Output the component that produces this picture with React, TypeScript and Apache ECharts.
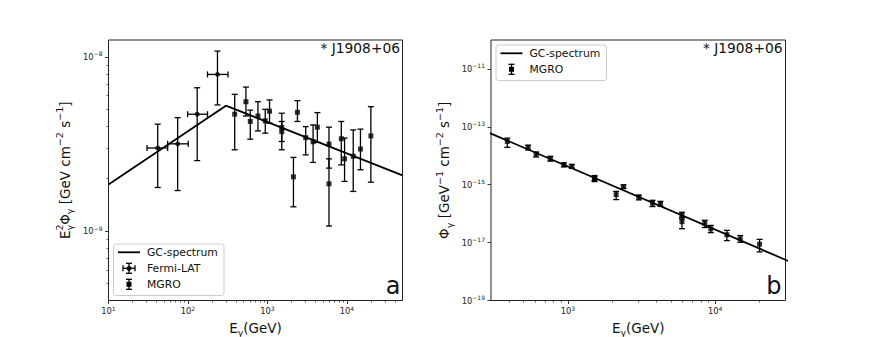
import React, { useEffect, useRef } from "react";
import * as echarts from "echarts";

// ---------- data ----------
// Fermi-LAT: energy (GeV), energy bin edges, E^2 Phi (GeV cm^-2 s^-1) and its error range
const FERMI_E = [41.6, 74.1, 130.6, 235];
const FERMI_E_LO = [30.5, 55.5, 98.9, 176];
const FERMI_E_HI = [55.5, 100.7, 176, 319];
const FERMI_E2F = [3.0e-9, 3.17e-9, 4.69e-9, 7.93e-9];
const FERMI_E2F_LO = [1.78e-9, 1.71e-9, 2.54e-9, 5.3e-9];
const FERMI_E2F_HI = [4.11e-9, 4.48e-9, 6.65e-9, 1.08e-8];

// MGRO: energy (GeV), E^2 Phi and its error range
const MGRO_E = [387, 536, 608, 759, 938, 1062, 1514, 1514, 2123, 2382, 3027, 3750, 4246, 5943, 5943, 8492, 9333, 11995, 14791, 20000];
const MGRO_E2F = [4.69e-9, 5.53e-9, 4.26e-9, 4.58e-9, 4.3e-9, 4.88e-9, 3.93e-9, 3.72e-9, 2.05e-9, 4.81e-9, 3.44e-9, 3.26e-9, 3.95e-9, 3.16e-9, 1.87e-9, 3.39e-9, 2.6e-9, 2.69e-9, 2.96e-9, 3.52e-9];
const MGRO_E2F_HI = [6.1e-9, 6.71e-9, 4.95e-9, 5.53e-9, 5.0e-9, 5.66e-9, 4.75e-9, 4.26e-9, 2.65e-9, 5.61e-9, 3.98e-9, 4.07e-9, 4.79e-9, 3.95e-9, 2.6e-9, 4.26e-9, 3.42e-9, 3.81e-9, 3.85e-9, 5.18e-9];
const MGRO_E2F_LO = [2.93e-9, 4.58e-9, 3.37e-9, 3.76e-9, 3.65e-9, 4.16e-9, 3.27e-9, 2.93e-9, 1.38e-9, 4.26e-9, 2.74e-9, 2.48e-9, 3.23e-9, 2.3e-9, 1.07e-9, 2.4e-9, 1.93e-9, 1.69e-9, 2.25e-9, 1.91e-9];

// GC-spectrum (broken power law) break points: energy (GeV), E^2 Phi
const GC_E = [10, 300, 50000];
const GC_E2F = [1.85e-9, 5.25e-9, 2.09e-9];

// axis ranges and ticks
const LEFT_X_RANGE = [10, 50000];
const LEFT_Y_RANGE = [4e-10, 1.25e-8];
const RIGHT_X_RANGE = [300, 30000];
const RIGHT_Y_RANGE = [1e-19, 1e-10];
const LEFT_X_MAJOR = [10, 100, 1000, 10000];
const LEFT_X_MINOR = [20, 30, 40, 50, 60, 70, 80, 90, 200, 300, 400, 500, 600, 700, 800, 900, 2000, 3000, 4000, 5000, 6000, 7000, 8000, 9000, 20000, 30000, 40000];
const LEFT_Y_MAJOR = [1e-9, 1e-8];
const LEFT_Y_MINOR = [5e-10, 6e-10, 7e-10, 8e-10, 9e-10, 2e-9, 3e-9, 4e-9, 5e-9, 6e-9, 7e-9, 8e-9, 9e-9];
const RIGHT_X_MAJOR = [1000, 10000];
const RIGHT_X_MINOR = [400, 500, 600, 700, 800, 900, 2000, 3000, 4000, 5000, 6000, 7000, 8000, 9000, 20000];
const RIGHT_Y_MAJOR = [1e-19, 1e-17, 1e-15, 1e-13, 1e-11];

const SOURCE = "* J1908+06";

// ---------- helpers ----------
const lg = (v: number) => Math.log10(v);
const supStr = (n: number) => (n < 0 ? "\u2212" : "") + Math.abs(n);
const tickFmt = (v: number) => `{b|10}{s|${supStr(Math.round(v))}}`;
const FONT = "DejaVu Sans";
const INK = "#111";

const tickRich = {
  b: { fontSize: 8.3, lineHeight: 12, fontFamily: FONT, color: "#222" },
  s: { fontSize: 6, lineHeight: 7, verticalAlign: "top", fontFamily: FONT, color: "#222" },
};
const nameRich = {
  n: { fontSize: 13.5, lineHeight: 20, fontFamily: FONT, color: INK },
  sup: { fontSize: 9.5, lineHeight: 11, verticalAlign: "top", fontFamily: FONT, color: INK },
  sub: { fontSize: 9.5, lineHeight: 11, verticalAlign: "bottom", fontFamily: FONT, color: INK },
  // subscript stacked under the preceding superscript
  subk: { fontSize: 9.5, lineHeight: 11, verticalAlign: "bottom", fontFamily: FONT, color: INK, padding: [0, 0, 0, -6] },
};

const GRID_L = { left: 108.5, top: 40, width: 294, height: 260.5 };
const GRID_R = { left: 491, top: 40, width: 294.5, height: 260.5 };

function majorAxis(gridIndex: number, range: number[], ticks: number[], isX: boolean, name: string, nameGap: number) {
  return {
    type: "value",
    gridIndex,
    position: isX ? "bottom" : "left",
    min: lg(range[0]),
    max: lg(range[1]),
    axisLine: { show: false },
    splitLine: { show: false },
    axisTick: { show: true, customValues: ticks.map(lg), length: 3.5, lineStyle: { color: "#222", width: 0.9 } },
    axisLabel: {
      show: true,
      customValues: ticks.map(lg),
      formatter: tickFmt,
      rich: tickRich,
      margin: isX ? 4.5 : 6,
    },
    name,
    nameLocation: "middle",
    nameGap,
    nameRotate: isX ? 0 : 90,
    nameTextStyle: { rich: nameRich },
  };
}
function minorAxis(gridIndex: number, range: number[], ticks: number[], isX: boolean) {
  return {
    type: "value",
    gridIndex,
    position: isX ? "bottom" : "left",
    offset: 0,
    min: lg(range[0]),
    max: lg(range[1]),
    axisLine: { show: false },
    splitLine: { show: false },
    axisTick: { show: true, customValues: ticks.map(lg), length: 2, lineStyle: { color: "#222", width: 0.7 } },
    axisLabel: { show: false },
  };
}

// custom error bar renderer: value = [x, y, ylo, yhi, xlo, xhi]
function errRender(withX: boolean) {
  return (params: any, api: any) => {
    const x = api.value(0);
    const y = api.value(1);
    const top = api.coord([x, api.value(3)]);
    const bot = api.coord([x, api.value(2)]);
    const cap = 3;
    const style = { stroke: "#000", lineWidth: 1.3 };
    const children: any[] = [
      { type: "line", shape: { x1: top[0], y1: top[1], x2: bot[0], y2: bot[1] }, style },
      { type: "line", shape: { x1: top[0] - cap, y1: top[1], x2: top[0] + cap, y2: top[1] }, style },
      { type: "line", shape: { x1: bot[0] - cap, y1: bot[1], x2: bot[0] + cap, y2: bot[1] }, style },
    ];
    if (withX) {
      const l = api.coord([api.value(4), y]);
      const r = api.coord([api.value(5), y]);
      children.push(
        { type: "line", shape: { x1: l[0], y1: l[1], x2: r[0], y2: r[1] }, style },
        { type: "line", shape: { x1: l[0], y1: l[1] - cap, x2: l[0], y2: l[1] + cap }, style },
        { type: "line", shape: { x1: r[0], y1: r[1] - cap, x2: r[0], y2: r[1] + cap }, style }
      );
    }
    return { type: "group", children };
  };
}

function legendBox(x: number, y: number, w: number, h: number) {
  return {
    type: "rect",
    shape: { x, y, width: w, height: h, r: 2.5 },
    style: { fill: "rgba(255,255,255,0.8)", stroke: "#cccccc", lineWidth: 1 },
    z: 50,
  };
}
function legendText(x: number, y: number, t: string) {
  return { type: "text", x, y, z: 51, style: { text: t, fontSize: 10.8, fontFamily: FONT, fill: INK, verticalAlign: "middle", align: "left" } };
}
function legendLine(x1: number, x2: number, y: number) {
  return { type: "line", z: 51, shape: { x1, y1: y, x2, y2: y }, style: { stroke: "#000", lineWidth: 1.8 } };
}
function legendErr(cx: number, cy: number, marker: "circle" | "rect", horiz: boolean) {
  const st = { stroke: "#000", lineWidth: 1.3 };
  const els: any[] = [
    { type: "line", z: 51, shape: { x1: cx, y1: cy - 5, x2: cx, y2: cy + 5 }, style: st },
    { type: "line", z: 51, shape: { x1: cx - 3, y1: cy - 5, x2: cx + 3, y2: cy - 5 }, style: st },
    { type: "line", z: 51, shape: { x1: cx - 3, y1: cy + 5, x2: cx + 3, y2: cy + 5 }, style: st },
  ];
  if (horiz) {
    els.push(
      { type: "line", z: 51, shape: { x1: cx - 6, y1: cy, x2: cx + 6, y2: cy }, style: st },
      { type: "line", z: 51, shape: { x1: cx - 6, y1: cy - 3, x2: cx - 6, y2: cy + 3 }, style: st },
      { type: "line", z: 51, shape: { x1: cx + 6, y1: cy - 3, x2: cx + 6, y2: cy + 3 }, style: st }
    );
  }
  if (marker === "circle") els.push({ type: "circle", z: 52, shape: { cx, cy, r: 2.5 }, style: { fill: "#000" } });
  else els.push({ type: "rect", z: 52, shape: { x: cx - 2.5, y: cy - 2.5, width: 5, height: 5 }, style: { fill: "#000" } });
  return els;
}

export default function App() {
  const ref = useRef<HTMLDivElement>(null);
  useEffect(() => {
    if (!ref.current) return;
    const chart = echarts.init(ref.current, undefined, { renderer: "svg" });

    const gcLeft = GC_E.map((e, i) => [lg(e), lg(GC_E2F[i])]);
    const gcRight = GC_E.map((e, i) => [lg(e), lg(GC_E2F[i] / (e * e))]);
    const fermiPts = FERMI_E.map((e, i) => [lg(e), lg(FERMI_E2F[i])]);
    const fermiErr = FERMI_E.map((e, i) => [lg(e), lg(FERMI_E2F[i]), lg(FERMI_E2F_LO[i]), lg(FERMI_E2F_HI[i]), lg(FERMI_E_LO[i]), lg(FERMI_E_HI[i])]);
    const mgroPts = MGRO_E.map((e, i) => [lg(e), lg(MGRO_E2F[i])]);
    const mgroErr = MGRO_E.map((e, i) => [lg(e), lg(MGRO_E2F[i]), lg(MGRO_E2F_LO[i]), lg(MGRO_E2F_HI[i])]);
    // right panel: differential flux Phi = (E^2 Phi) / E^2
    const mgroPtsR = MGRO_E.map((e, i) => [lg(e), lg(MGRO_E2F[i] / (e * e))]);
    const mgroErrR = MGRO_E.map((e, i) => [lg(e), lg(MGRO_E2F[i] / (e * e)), lg(MGRO_E2F_LO[i] / (e * e)), lg(MGRO_E2F_HI[i] / (e * e))]);

    const xName = "{n|E}{sub|γ}{n|(GeV)}";
    const yNameL = "{n|E}{sup|2}{subk|γ}{n|Φ}{sub|γ}{n| [GeV cm}{sup|−2}{n| s}{sup|−1}{n|]}";
    const yNameR = "{n|Φ}{sub|γ}{n| [GeV}{sup|−1}{n| cm}{sup|−2}{n| s}{sup|−1}{n|]}";

    const gridStyle = {
      show: true, borderColor: "#222", borderWidth: 1, backgroundColor: "transparent",
      containLabel: false, outerBoundsMode: "none",
    };

    chart.setOption({
      animation: false,
      backgroundColor: "#fff",
      grid: [
        { ...GRID_L, ...gridStyle },
        { ...GRID_R, ...gridStyle },
      ],
      xAxis: [
        majorAxis(0, LEFT_X_RANGE, LEFT_X_MAJOR, true, xName, 17),
        minorAxis(0, LEFT_X_RANGE, LEFT_X_MINOR, true),
        majorAxis(1, RIGHT_X_RANGE, RIGHT_X_MAJOR, true, xName, 17),
        minorAxis(1, RIGHT_X_RANGE, RIGHT_X_MINOR, true),
      ],
      yAxis: [
        majorAxis(0, LEFT_Y_RANGE, LEFT_Y_MAJOR, false, yNameL, 34),
        minorAxis(0, LEFT_Y_RANGE, LEFT_Y_MINOR, false),
        majorAxis(1, RIGHT_Y_RANGE, RIGHT_Y_MAJOR, false, yNameR, 37),
      ],
      series: [
        {
          type: "line", name: "GC-spectrum", xAxisIndex: 0, yAxisIndex: 0, data: gcLeft,
          symbol: "none", clip: true, lineStyle: { color: "#000", width: 1.8 }, z: 3,
        },
        {
          type: "custom", name: "Fermi-LAT err", xAxisIndex: 0, yAxisIndex: 0, data: fermiErr,
          renderItem: errRender(true), encode: { x: 0, y: 1 }, z: 4,
        },
        {
          type: "scatter", name: "Fermi-LAT", xAxisIndex: 0, yAxisIndex: 0, data: fermiPts,
          symbol: "circle", symbolSize: 5, itemStyle: { color: "#000" }, z: 5,
        },
        {
          type: "custom", name: "MGRO err", xAxisIndex: 0, yAxisIndex: 0, data: mgroErr,
          renderItem: errRender(false), encode: { x: 0, y: 1 }, z: 4,
        },
        {
          type: "scatter", name: "MGRO", xAxisIndex: 0, yAxisIndex: 0, data: mgroPts,
          symbol: "rect", symbolSize: 5, itemStyle: { color: "#000" }, z: 5,
        },
        {
          type: "line", name: "GC-spectrum R", xAxisIndex: 2, yAxisIndex: 2, data: gcRight,
          symbol: "none", clip: true, lineStyle: { color: "#000", width: 1.8 }, z: 3,
        },
        {
          type: "custom", name: "MGRO err R", xAxisIndex: 2, yAxisIndex: 2, data: mgroErrR,
          renderItem: errRender(false), encode: { x: 0, y: 1 }, z: 4,
        },
        {
          type: "scatter", name: "MGRO R", xAxisIndex: 2, yAxisIndex: 2, data: mgroPtsR,
          symbol: "rect", symbolSize: 5, itemStyle: { color: "#000" }, z: 5,
        },
      ],
      graphic: [
        { type: "text", right: 872 - 400, top: 40.5, z: 20, style: { text: SOURCE, fontSize: 13.8, fontFamily: FONT, fill: INK } },
        { type: "text", right: 872 - 782.5, top: 40.5, z: 20, style: { text: SOURCE, fontSize: 13.8, fontFamily: FONT, fill: INK } },
        { type: "text", x: 400.5, y: 285.5, z: 20, style: { text: "a", fontSize: 24, fontFamily: FONT, fill: INK, align: "right", verticalAlign: "middle" } },
        { type: "text", x: 781.5, y: 285.5, z: 20, style: { text: "b", fontSize: 24, fontFamily: FONT, fill: INK, align: "right", verticalAlign: "middle" } },
        // left legend
        legendBox(113.5, 244, 110.5, 51.5),
        legendLine(118, 140, 252.3),
        legendText(147, 252.3, "GC-spectrum"),
        ...legendErr(129, 268.3, "circle", true),
        legendText(147, 268.3, "Fermi-LAT"),
        ...legendErr(129, 284.3, "rect", false),
        legendText(147, 284.3, "MGRO"),
        // right legend
        legendBox(496, 45, 110.5, 35.5),
        legendLine(500.5, 522.5, 53.3),
        legendText(529.5, 53.3, "GC-spectrum"),
        ...legendErr(511.5, 69.3, "rect", false),
        legendText(529.5, 69.3, "MGRO"),
      ],
    });
    return () => chart.dispose();
  }, []);
  return (
    <div
      ref={ref}
      style={{ position: "fixed", left: 0, top: 0, width: 872, height: 337, background: "#fff" }}
    />
  );
}
